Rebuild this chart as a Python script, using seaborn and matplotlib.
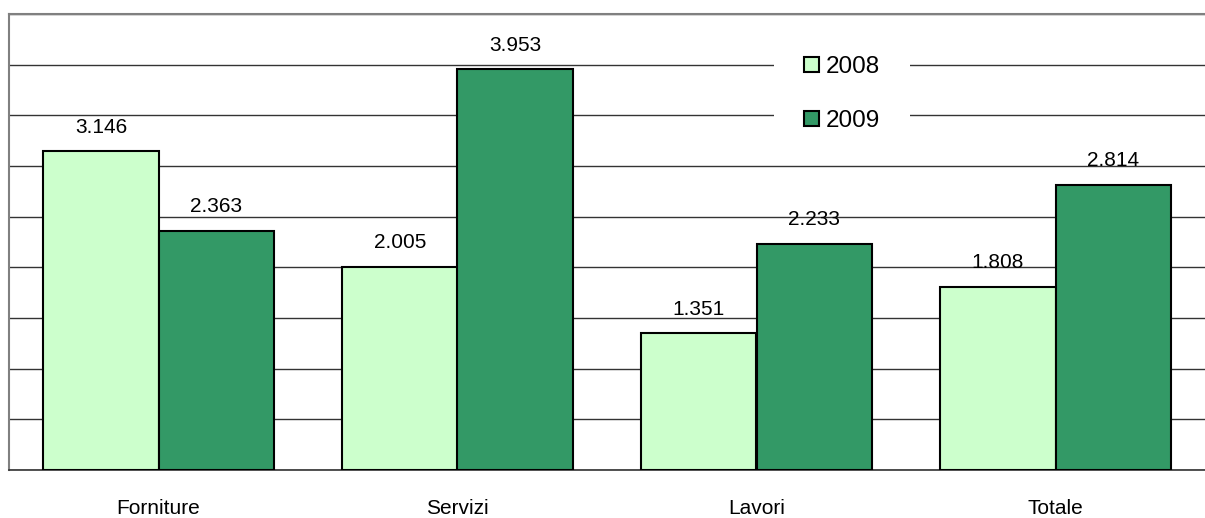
import pandas as pd
import seaborn as sns
from matplotlib import pyplot as plt

categorie = ['Forniture', 'Servizi', 'Lavori', 'Totale']
anni = ['2008', '2009']
valori_2008 = [3.146, 2.005, 1.351, 1.808]
valori_2009 = [2.363, 3.953, 2.233, 2.814]
colori = {'2008': '#CCFFCC', '2009': '#339966'}

# tabella in formato lungo per seaborn
df = pd.DataFrame({
    'categoria': categorie * 2,
    'anno': ['2008'] * len(categorie) + ['2009'] * len(categorie),
    'valore': valori_2008 + valori_2009,
})

sns.set_style('white')
plt.rcParams['font.family'] = ['Liberation Sans', 'DejaVu Sans']
plt.rcParams['text.color'] = 'black'
plt.rcParams['xtick.color'] = 'black'

fig = plt.figure(figsize=(12.05, 5.18), dpi=100)
ax = fig.add_axes([9 / 1205, 48 / 518, 1 - 9 / 1205, (470 - 14) / 518])

sns.barplot(data=df, x='categoria', y='valore', hue='anno', hue_order=anni,
            palette=colori, width=0.77, edgecolor='black', linewidth=1.5,
            saturation=1, ax=ax, zorder=3)

# etichette sopra le barre
for cont in ax.containers:
    labels = [f'{v:.3f}' for v in cont.datavalues]
    ax.bar_label(cont, labels=labels, padding=10.5, fontsize=15, color='black')

ax.set_ylim(0, 4.5)
ax.set_xlim(-0.5, len(categorie) - 0.5)
ax.set_yticks([i * 0.5 for i in range(10)])
ax.set_yticklabels([])
ax.tick_params(axis='y', length=0)
ax.yaxis.grid(True, color='#333333', linewidth=1, zorder=0)
ax.set_axisbelow(True)

# tacche tra le categorie
ax.set_xticks([i - 0.5 for i in range(len(categorie) + 1)], minor=True)
ax.tick_params(axis='x', which='minor', length=5, color='#808080', width=1)
ax.tick_params(axis='x', which='major', length=0, pad=21, labelsize=15,
               labelcolor='black')
ax.set_xlabel('')
ax.set_ylabel('')

for side in ['top', 'left']:
    ax.spines[side].set_color('#808080')
    ax.spines[side].set_linewidth(1.5)
ax.spines['right'].set_visible(False)
ax.spines['bottom'].set_color('#333333')
ax.spines['bottom'].set_linewidth(1.2)

leg = ax.legend(loc='center', bbox_to_anchor=(833 / 1196, 1 - (94 - 14) / 456),
                frameon=True, framealpha=1, fontsize=17.5, handlelength=0.6,
                handleheight=0.6, handletextpad=0.3, labelspacing=1.32,
                borderpad=1.25)
leg.get_frame().set_facecolor('white')
leg.get_frame().set_edgecolor('white')
leg.get_frame().set_linewidth(0)
leg.set_zorder(5)

fig.savefig('out.png', dpi=100)
